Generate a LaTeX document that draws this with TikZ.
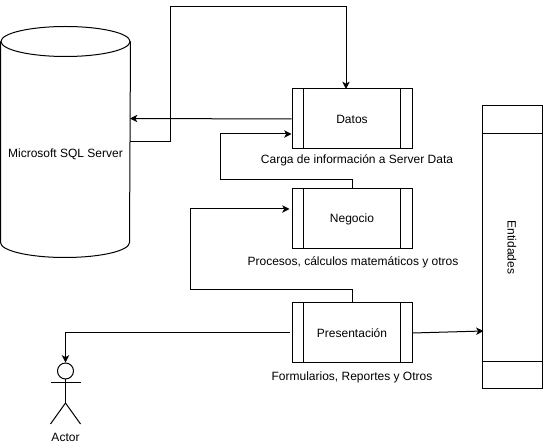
\documentclass[tikz,border=0pt]{standalone}
\usepackage{fontspec}
\setmainfont{Liberation Sans}
\usetikzlibrary{arrows.meta,calc}
\tikzset{
    procbox/.style={draw, minimum width=90pt, minimum height=45pt, inner sep=0pt, font=\fontsize{9}{11}\selectfont},
    note/.style={inner sep=0pt, font=\fontsize{9}{11}\selectfont},
    link/.style={-{Stealth[length=5.5pt,width=5.5pt,inset=1.5pt]}},
}
\begin{document}
\begin{tikzpicture}[x=0.75pt, y=-0.75pt, line width=0.75pt, >=Latex]
    \useasboundingbox (0,0) rectangle (543,445);

    % ---------- database ----------
    \node[minimum width=96.75pt, minimum height=150pt, inner sep=0pt] (sql) at (65.5,142) {};
    \draw (sql.north west) -- (sql.south west) arc[start angle=180, end angle=360, x radius=48.375pt, y radius=11.25pt] -- (sql.north east);
    \draw (sql.north) ellipse[x radius=48.375pt, y radius=11.25pt];
    \node[note] (sqltxt) at (65.5,154) {Microsoft SQL Server};

    % ---------- process boxes ----------
    \node[procbox] (datos) at (352,119) {Datos};
    \node[procbox] (negocio) at (352,219) {Negocio};
    \node[procbox] (presentacion) at (352,333) {Presentación};
    \foreach \n in {datos,negocio,presentacion} {
        \draw ($(\n.north west)+(12,0)$) -- ($(\n.south west)+(12,0)$);
        \draw ($(\n.north east)+(-12,0)$) -- ($(\n.south east)+(-12,0)$);
    }
    \node[note] (carga) at (357,160) {Carga de información a Server Data};
    \node[note] (procesos) at (353,262) {Procesos, cálculos matemáticos y otros};
    \node[note] (formularios) at (352,377) {Formularios, Reportes y Otros};

    % ---------- entities ----------
    \node[draw, minimum width=45pt, minimum height=212.25pt, inner sep=0pt] (entidades) at (512,247.5) {};
    \node[note, rotate=-90] (entidadestxt) at (entidades.center) {Entidades};
    \draw ($(entidades.north west)+(0,28)$) -- ($(entidades.north east)+(0,28)$);
    \draw ($(entidades.south west)+(0,-28)$) -- ($(entidades.south east)+(0,-28)$);

    % ---------- actor ----------
    \node[circle, draw, minimum size=12pt, inner sep=0pt] (head) at (65.5,371) {};
    \coordinate (hip) at (65.5,403);
    \draw (head.south) -- (hip);
    \draw (50.5,383) -- (80.5,383);
    \draw (50.5,424) -- (hip) -- (80.5,424);
    \node[note] (actor) at (65.5,437) {Actor};

    % ---------- connectors ----------
    \coordinate (sqlout) at (130,142);
    \coordinate (sqlin) at (130,118.5);
    \coordinate (datosin) at (346,89);
    \draw[link] (sqlout) -| (170,7) -| (datosin);
    \draw[link] (datos.west) -- (sqlin);
    \draw[link] (negocio.north) |- (220,180) |- ($(datos.west)+(0,15)$);
    \draw[link] (presentacion.north) |- (190,290) |- ($(negocio.west)+(-2,-10)$);
    \draw[link] ($(presentacion.west)+(-2,0)$) -| (head.north);
    \draw[link] (presentacion.east) -- ($(entidades.west)+(2,83.5)$);
\end{tikzpicture}
\end{document}
